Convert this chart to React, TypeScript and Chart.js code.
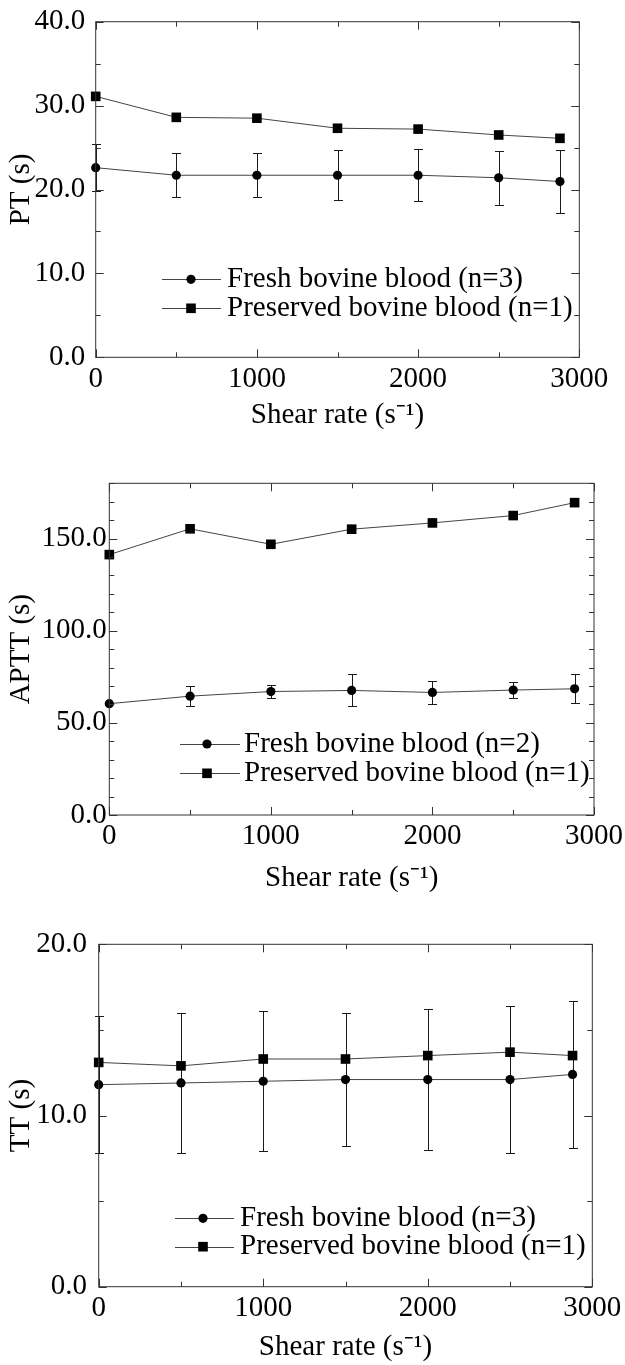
import React, { useEffect, useRef } from "react";
import { Chart, registerables } from "chart.js";

Chart.register(...registerables);

// ---------- data ----------
const shearRates = [0, 500, 1000, 1500, 2000, 2500, 2880];
const xTickLabels = ["0", "1000", "2000", "3000"];

const ptFresh = [22.6, 21.7, 21.7, 21.7, 21.7, 21.4, 20.95];
const ptFreshErr = [2.8, 2.6, 2.6, 3.0, 3.1, 3.2, 3.7];
const ptPreserved = [31.1, 28.6, 28.5, 27.3, 27.2, 26.5, 26.1];

const apttFresh = [60.4, 64.5, 67.0, 67.6, 66.5, 67.8, 68.5];
const apttFreshErr = [0, 5.3, 3.4, 8.7, 6.4, 4.3, 7.8];
const apttPreserved = [141.3, 155.3, 146.9, 155.1, 158.5, 162.5, 169.5];

const ttFresh = [11.8, 11.9, 12.0, 12.1, 12.1, 12.1, 12.4];
const ttFreshErr = [4.0, 4.1, 4.1, 3.9, 4.1, 4.3, 4.3];
const ttPreserved = [13.1, 12.9, 13.3, 13.3, 13.5, 13.7, 13.5];

const ptLabels = ["Fresh bovine blood (n=3)", "Preserved bovine blood (n=1)"];
const apttLabels = ["Fresh bovine blood (n=2)", "Preserved bovine blood (n=1)"];
const ttLabels = ["Fresh bovine blood (n=3)", "Preserved bovine blood (n=1)"];

const xTitle = "Shear rate (s\u207B\u00B9)";

// ---------- styling ----------
const FONT = "'Liberation Serif', 'Times New Roman', serif";
const FONT_SIZE = 29;
const LINE_COLOR = "#444";
const MARK_COLOR = "#000";
const AXIS_COLOR = "#333";

const framePlugin = {
  id: "frameTicks",
  afterDraw(chart: any, _a: any, opts: any) {
    const { ctx, chartArea: a, scales } = chart;
    const xs = scales.x;
    const ys = scales.y;
    ctx.save();
    ctx.strokeStyle = AXIS_COLOR;
    ctx.lineWidth = 1;
    ctx.strokeRect(a.left, a.top, a.right - a.left, a.bottom - a.top);
    const seg = (x1: number, y1: number, x2: number, y2: number) => {
      ctx.beginPath();
      ctx.moveTo(x1, y1);
      ctx.lineTo(x2, y2);
      ctx.stroke();
    };
    const isMajor = (v: number, step: number) => Math.abs(v / step - Math.round(v / step)) < 1e-6;
    for (let v = xs.min; v <= xs.max + 1e-9; v += opts.xMinor) {
      const px = Math.round(xs.getPixelForValue(v)) + 0.5;
      const len = isMajor(v, opts.xMajor) ? opts.majorLen : opts.minorLen;
      seg(px, a.bottom, px, a.bottom - len);
      seg(px, a.top, px, a.top + len);
    }
    for (let v = ys.min; v <= ys.max + 1e-9; v += opts.yMinor) {
      const py = Math.round(ys.getPixelForValue(v)) + 0.5;
      const len = isMajor(v, opts.yMajor) ? opts.majorLen : opts.minorLen;
      seg(a.left, py, a.left + len, py);
      seg(a.right, py, a.right - len, py);
    }
    ctx.restore();
  },
};

const errorBarPlugin = {
  id: "errorBars",
  beforeDatasetsDraw(chart: any) {
    const { ctx, scales } = chart;
    const xs = scales.x;
    const ys = scales.y;
    chart.data.datasets.forEach((ds: any) => {
      const errs = ds.errors;
      if (!errs) return;
      ctx.save();
      ctx.strokeStyle = "#1a1a1a";
      ctx.lineWidth = 1;
      ds.data.forEach((pt: any, j: number) => {
        const e = errs[j];
        if (!e) return;
        const px = Math.round(xs.getPixelForValue(pt.x)) + 0.5;
        const yt = Math.round(ys.getPixelForValue(pt.y + e)) + 0.5;
        const yb = Math.round(ys.getPixelForValue(pt.y - e)) + 0.5;
        ctx.beginPath();
        ctx.moveTo(px, yt);
        ctx.lineTo(px, yb);
        ctx.moveTo(px - 4.5, yt);
        ctx.lineTo(px + 4.5, yt);
        ctx.moveTo(px - 4.5, yb);
        ctx.lineTo(px + 4.5, yb);
        ctx.stroke();
      });
      ctx.restore();
    });
  },
};

const legendPlugin = {
  id: "insideLegend",
  afterDraw(chart: any, _a: any, opts: any) {
    const { ctx } = chart;
    chart.data.datasets.forEach((ds: any, i: number) => {
      const y = opts.rows[i];
      ctx.save();
      ctx.strokeStyle = ds.borderColor;
      ctx.lineWidth = ds.borderWidth;
      ctx.beginPath();
      ctx.moveTo(opts.lineStart, Math.round(y) + 0.5);
      ctx.lineTo(opts.lineEnd, Math.round(y) + 0.5);
      ctx.stroke();
      ctx.fillStyle = MARK_COLOR;
      const r = ds.pointRadius;
      if (ds.pointStyle === "rect") {
        const h = Math.SQRT1_2 * r;
        ctx.fillRect(opts.marker - h, y - h, 2 * h, 2 * h);
      } else {
        ctx.beginPath();
        ctx.arc(opts.marker, y, r, 0, Math.PI * 2);
        ctx.fill();
      }
      ctx.fillStyle = "#000";
      ctx.font = `${FONT_SIZE}px ${FONT}`;
      ctx.textBaseline = "middle";
      ctx.textAlign = "left";
      ctx.fillText(ds.label, opts.text, y);
      ctx.restore();
    });
  },
};

type Panel = {
  top: number;
  height: number;
  plot: { left: number; top: number; right: number; bottom: number };
  yMax: number;
  yMajor: number;
  yMinor: number;
  yTitle: string;
  yLabelPad: number;
  xLabelPad: number;
  xTitlePad: number;
  fresh: number[];
  freshErr: number[];
  preserved: number[];
  labels: string[];
  legend: { lineStart: number; lineEnd: number; marker: number; text: number; rows: number[] };
};

const panels: Panel[] = [
  {
    top: 0,
    height: 440,
    plot: { left: 95.7, top: 21.7, right: 579.3, bottom: 357.3 },
    yMax: 40,
    yMajor: 10,
    yMinor: 5,
    yTitle: "PT (s)",
    yLabelPad: 10.5,
    xLabelPad: 4.3,
    xTitlePad: 7.6,
    fresh: ptFresh,
    freshErr: ptFreshErr,
    preserved: ptPreserved,
    labels: ptLabels,
    legend: { lineStart: 162, lineEnd: 221, marker: 191, text: 227, rows: [279.3, 308.3] },
  },
  {
    top: 440,
    height: 460,
    plot: { left: 109.3, top: 43.3, right: 594, bottom: 375 },
    yMax: 180,
    yMajor: 50,
    yMinor: 10,
    yTitle: "APTT (s)",
    yLabelPad: 2.5,
    xLabelPad: 4.3,
    xTitlePad: 4.6,
    fresh: apttFresh,
    freshErr: apttFreshErr,
    preserved: apttPreserved,
    labels: apttLabels,
    legend: { lineStart: 180, lineEnd: 240, marker: 207, text: 244, rows: [304, 333.3] },
  },
  {
    top: 900,
    height: 465,
    plot: { left: 98.7, top: 44.3, right: 592.3, bottom: 386.7 },
    yMax: 20,
    yMajor: 10,
    yMinor: 5,
    yTitle: "TT (s)",
    yLabelPad: 11.7,
    xLabelPad: 4.3,
    xTitlePad: 0,
    fresh: ttFresh,
    freshErr: ttFreshErr,
    preserved: ttPreserved,
    labels: ttLabels,
    legend: { lineStart: 175, lineEnd: 234, marker: 203, text: 240, rows: [318.3, 346.7] },
  },
];

const clearPadding = (s: any) => {
  s.paddingTop = 0;
  s.paddingBottom = 0;
  s.paddingLeft = 0;
  s.paddingRight = 0;
};

function buildConfig(p: Panel): any {
  const font = { family: FONT, size: FONT_SIZE, lineHeight: 1.2 };
  const toPoints = (arr: number[]) => arr.map((v, i) => ({ x: shearRates[i], y: v }));
  return {
    type: "line",
    data: {
      datasets: [
        {
          label: p.labels[0],
          data: toPoints(p.fresh),
          errors: p.freshErr,
          borderColor: LINE_COLOR,
          borderWidth: 1,
          pointStyle: "circle",
          pointRadius: 4.6,
          pointBackgroundColor: MARK_COLOR,
          pointBorderColor: MARK_COLOR,
          pointBorderWidth: 0,
          tension: 0,
          fill: false,
          clip: false,
        },
        {
          label: p.labels[1],
          data: toPoints(p.preserved),
          borderColor: LINE_COLOR,
          borderWidth: 1,
          pointStyle: "rect",
          pointRadius: 6.8,
          pointBackgroundColor: MARK_COLOR,
          pointBorderColor: MARK_COLOR,
          pointBorderWidth: 0,
          tension: 0,
          fill: false,
          clip: false,
        },
      ],
    },
    options: {
      responsive: false,
      animation: false,
      events: [],
      layout: {
        padding: { left: 0, top: p.plot.top, right: 625 - p.plot.right, bottom: 0 },
      },
      plugins: {
        legend: { display: false },
        tooltip: { enabled: false },
        frameTicks: { xMajor: 1000, xMinor: 500, yMajor: p.yMajor, yMinor: p.yMinor, majorLen: 8, minorLen: 5 },
        insideLegend: p.legend,
      },
      scales: {
        x: {
          type: "linear",
          min: 0,
          max: 3000,
          grid: { display: false, drawTicks: false },
          border: { display: false },
          ticks: {
            stepSize: 1000,
            autoSkip: false,
            maxRotation: 0,
            padding: p.xLabelPad,
            color: "#000",
            font,
            callback: (v: number) => xTickLabels[Math.round(v / 1000)] ?? "",
          },
          title: {
            display: true,
            text: xTitle,
            color: "#000",
            font,
            padding: { top: 0, bottom: p.xTitlePad },
          },
          afterFit: (s: any) => {
            s.height = p.height - p.plot.bottom;
            clearPadding(s);
          },
        },
        y: {
          type: "linear",
          min: 0,
          max: p.yMax,
          grid: { display: false, drawTicks: false },
          border: { display: false },
          ticks: {
            stepSize: p.yMajor,
            includeBounds: false,
            autoSkip: false,
            padding: p.yLabelPad,
            color: "#000",
            font,
            callback: (v: number) => (Math.abs(v % p.yMajor) < 1e-6 ? v.toFixed(1) : ""),
          },
          title: {
            display: true,
            text: p.yTitle,
            color: "#000",
            font,
            padding: { top: 3.6, bottom: 0 },
          },
          afterFit: (s: any) => {
            s.width = p.plot.left;
            clearPadding(s);
          },
        },
      },
    },
    plugins: [errorBarPlugin, framePlugin, legendPlugin],
  };
}

function ChartPanel({ panel }: { panel: Panel }) {
  const ref = useRef<HTMLCanvasElement | null>(null);
  useEffect(() => {
    if (!ref.current) return;
    const chart = new Chart(ref.current, buildConfig(panel));
    return () => chart.destroy();
  }, [panel]);
  return (
    <canvas
      ref={ref}
      width={625}
      height={panel.height}
      style={{ position: "absolute", left: 0, top: panel.top, width: 625, height: panel.height }}
    />
  );
}

export default function App() {
  return (
    <div style={{ position: "absolute", left: 0, top: 0, width: 625, height: 1365, background: "#fff" }}>
      {panels.map((p, i) => (
        <ChartPanel key={i} panel={p} />
      ))}
    </div>
  );
}
